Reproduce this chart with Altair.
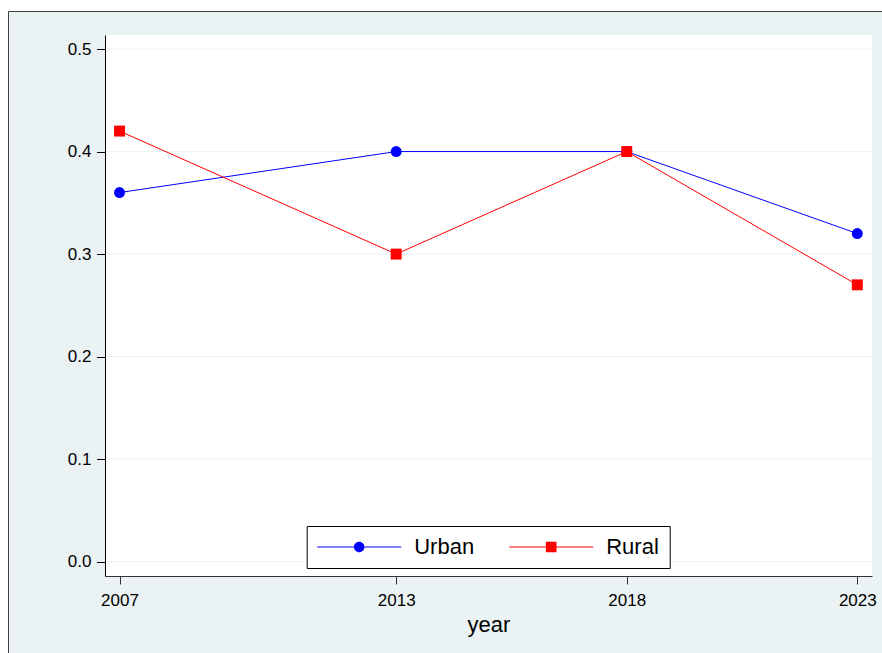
import altair as alt
import pandas as pd

# Survey years and the share recorded for each area type
years = [2007, 2013, 2018, 2023]
urban = [0.36, 0.40, 0.40, 0.32]
rural = [0.42, 0.30, 0.40, 0.27]

series_names = ["Urban", "Rural"]
series_colors = ["#0000FF", "#FF0000"]
marker_shapes = ["circle", "square"]
y_ticks = [0.0, 0.1, 0.2, 0.3, 0.4, 0.5]

rows = []
for name, vals in zip(series_names, [urban, rural]):
    for yr, v in zip(years, vals):
        rows.append({"year": yr, "value": v, "series": name})
df = pd.DataFrame(rows)
grid_df = pd.DataFrame({"value": y_ticks})

W, H = 767, 541
FONT = "Liberation Sans"
FRAME_BG = "#EAF2F3"

x_enc = alt.X(
    "year:Q",
    scale=alt.Scale(domain=[2006.685, 2023.319], nice=False, zero=False),
    axis=alt.Axis(
        values=years, format="d", grid=False, zindex=1,
        domainColor="#333333", tickColor="#333333", tickSize=8,
        labelFontSize=17, labelPadding=8, labelColor="black", labelFlush=False,
        titleFontSize=22, titleFontWeight="normal", titleColor="black",
        titleY=55.7, titleBaseline="alphabetic",
    ),
    title="year",
)
y_enc = alt.Y(
    "value:Q",
    scale=alt.Scale(domain=[-0.014, 0.5137], nice=False, zero=False),
    axis=alt.Axis(
        values=y_ticks, format=".1f", grid=False, zindex=1,
        domainColor="black", tickColor="black", tickSize=8.5,
        labelFontSize=17, labelPadding=5.5, labelColor="black",
    ),
    title=None,
)

one_row = alt.Data(values=[{}])

# outer graph region with its frame line
frame = alt.Chart(one_row).mark_rect(
    fill=FRAME_BG, stroke="#404040", strokeWidth=1
).encode(
    x=alt.value(-96.5), x2=alt.value(W + 40),
    y=alt.value(-23.5), y2=alt.value(H + 120),
)

# white plot region
plot_bg = alt.Chart(one_row).mark_rect(fill="white").encode(
    x=alt.value(0), x2=alt.value(W), y=alt.value(0), y2=alt.value(H)
)

grid = alt.Chart(grid_df).mark_rule(color=FRAME_BG, strokeWidth=1).encode(y=y_enc)

layers = [frame, plot_bg, grid]
for name, color, shape in zip(series_names, series_colors, marker_shapes):
    sub = df[df["series"] == name]
    line = alt.Chart(sub).mark_line(color=color, strokeWidth=1).encode(x=x_enc, y=y_enc)
    pts = alt.Chart(sub).mark_point(
        shape=shape, filled=True, size=120, color=color, opacity=1
    ).encode(x=x_enc, y=y_enc)
    layers += [line, pts]

# legend keys: a thin line through the series marker (unit = 10.5 px)
t, c, s, L = 0.0476, 0.5, 0.505, 4
key_paths = [
    f"M-{L},-{t}H-{c}V{t}H-{L}Z M{c},-{t}H{L}V{t}H{c}Z "
    f"M{c},0A{c},{c},0,1,1,-{c},0A{c},{c},0,1,1,{c},0Z",
    f"M-{L},-{t}H-{s}V{t}H-{L}Z M{s},-{t}H{L}V{t}H{s}Z M-{s},-{s}H{s}V{s}H-{s}Z",
]
legend = alt.Legend(
    title=None, orient="none", legendX=201.7, legendY=491,
    direction="horizontal", symbolSize=441, symbolStrokeWidth=0,
    symbolOffset=31.5, labelOffset=44,
    labelFont=FONT, labelFontSize=22, labelColor="black", labelLimit=300,
    fillColor="white", strokeColor="black", padding=10,
    columnPadding=34, zindex=2,
)
legend_layer = alt.Chart(df).transform_filter("false").mark_point(
    filled=True, opacity=1
).encode(
    x=x_enc, y=y_enc,
    fill=alt.Fill("series:N", scale=alt.Scale(domain=series_names, range=series_colors), legend=legend),
    shape=alt.Shape("series:N", scale=alt.Scale(domain=series_names, range=key_paths), legend=legend),
)
layers.append(legend_layer)

chart = alt.layer(*layers).properties(
    width=W, height=H,
    autosize=alt.AutoSizeParams(type="none"),
    padding={"left": 105, "top": 35, "right": 10, "bottom": 77},
    background="white",
).configure_view(stroke="transparent").configure_axis(
    labelFont=FONT, titleFont=FONT
)

chart.save("out.html", embed_options={"renderer": "svg", "actions": False})
